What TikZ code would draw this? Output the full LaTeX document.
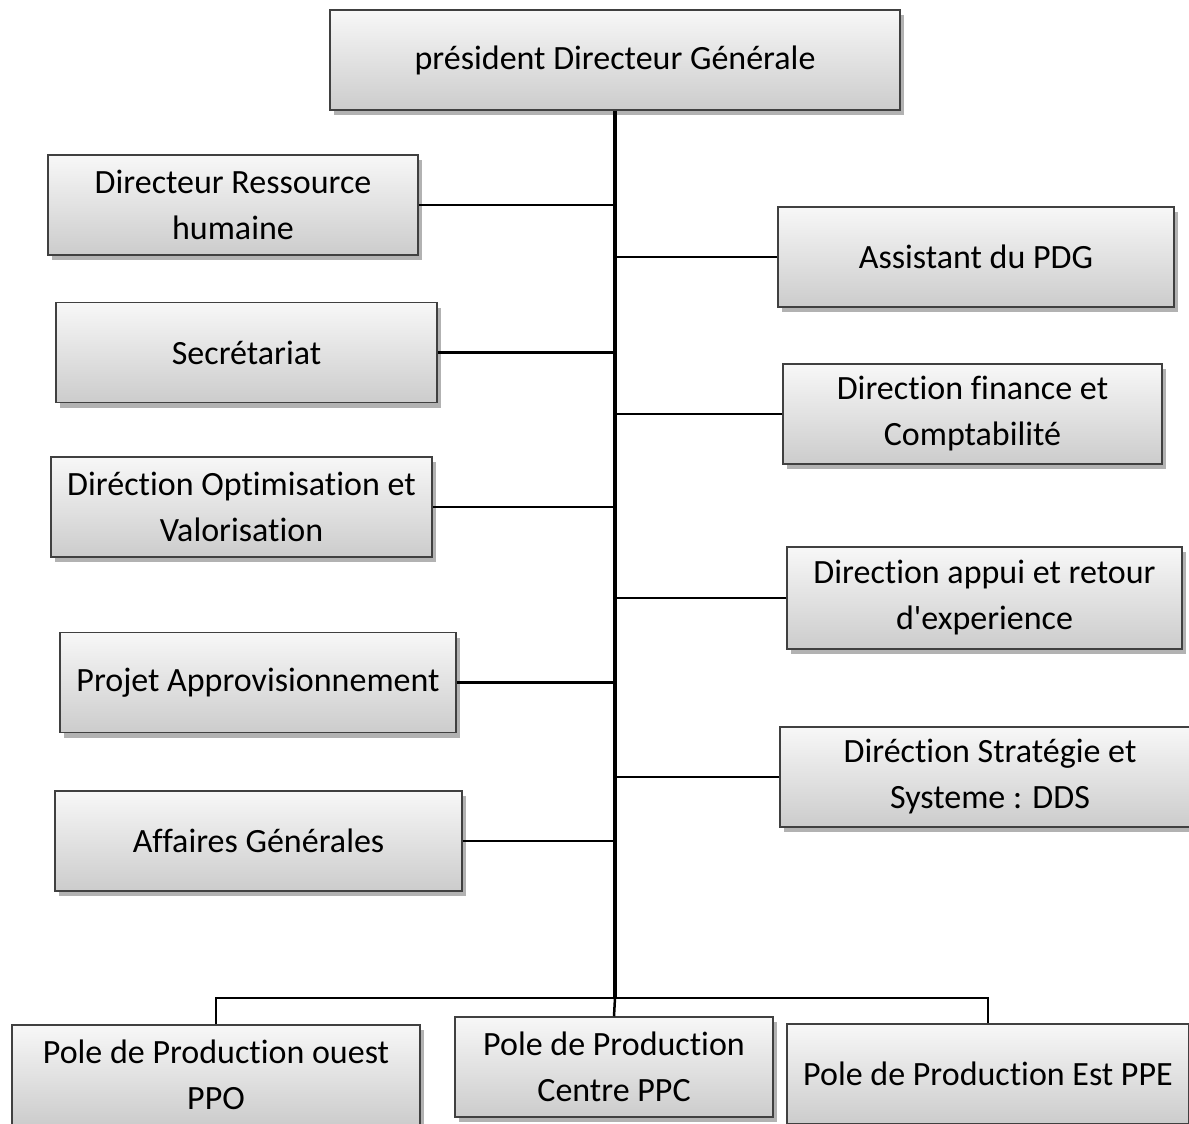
\documentclass[tikz,border=0pt]{standalone}
\usepackage{fontspec}
\setmainfont{Carlito}[Ligatures={TeXOff,CommonOff}]
\usetikzlibrary{positioning,shadows}

\begin{document}
\begin{tikzpicture}[x=1pt,y=-1pt,
	poste/.style={
		draw=black!75, line width=1.5pt, top color=gray!6, bottom color=gray!40,
		align=center, inner sep=0pt, minimum height=100pt,
		font=\fontsize{34}{46}\selectfont,
		drop shadow={shadow xshift=4pt, shadow yshift=-5pt, opacity=0.3, fill=black}
	},
	lien/.style={line width=2.5pt},
	tronc/.style={line width=3.5pt}
	]
	\useasboundingbox (0,0) rectangle (1189,1124);
	
	% direction generale
	\node[poste, minimum width=570pt] (pdg) at (615,60) {président Directeur Générale};
	
	% colonne gauche
	\node[poste, minimum width=370pt] (drh) at (233,205) {Directeur Ressource\\humaine};
	\node[poste, minimum width=381pt] (sec) at (246.5,352.5) {Secrétariat};
	\node[poste, minimum width=381pt] (dov) at (241.5,507) {Diréction Optimisation et\\Valorisation};
	\node[poste, minimum width=396pt] (papp) at (258,682.5) {Projet Approvisionnement};
	\node[poste, minimum width=407pt] (ag) at (258.5,841) {Affaires Générales};
	
	% colonne droite
	\node[poste, minimum width=396pt] (apdg) at (976,257) {Assistant du PDG};
	\node[poste, minimum width=379pt] (dfc) at (972.5,414) {Direction finance et\\Comptabilité};
	\node[poste, minimum width=395pt, minimum height=102pt] (dar) at (984.5,598) {Direction appui et retour\\d'experience};
	\node[poste, minimum width=420pt] (dss) at (990,777) {Diréction Stratégie et\\Systeme : DDS};
	
	% poles de production
	\node[poste, minimum width=408pt] (ppo) at (216,1075) {Pole de Production ouest\\PPO};
	\node[poste, minimum width=318pt] (ppc) at (614,1067) {Pole de Production\\Centre PPC};
	\node[poste, minimum width=402pt] (ppe) at (988,1074) {Pole de Production Est PPE};
	
	% liaisons
	\coordinate (bus) at (615,998);
	\draw[tronc] (pdg.south) -- (bus);
	\foreach \n in {drh,sec,dov,papp,ag,apdg,dfc,dar,dss}
		\draw[lien] (\n) -- (\n -| pdg.south);
	\draw[lien] (ppo.north) |- (bus) -| (ppe.north);
	\draw[lien] (bus) -- (ppc.north);
\end{tikzpicture}
\end{document}
